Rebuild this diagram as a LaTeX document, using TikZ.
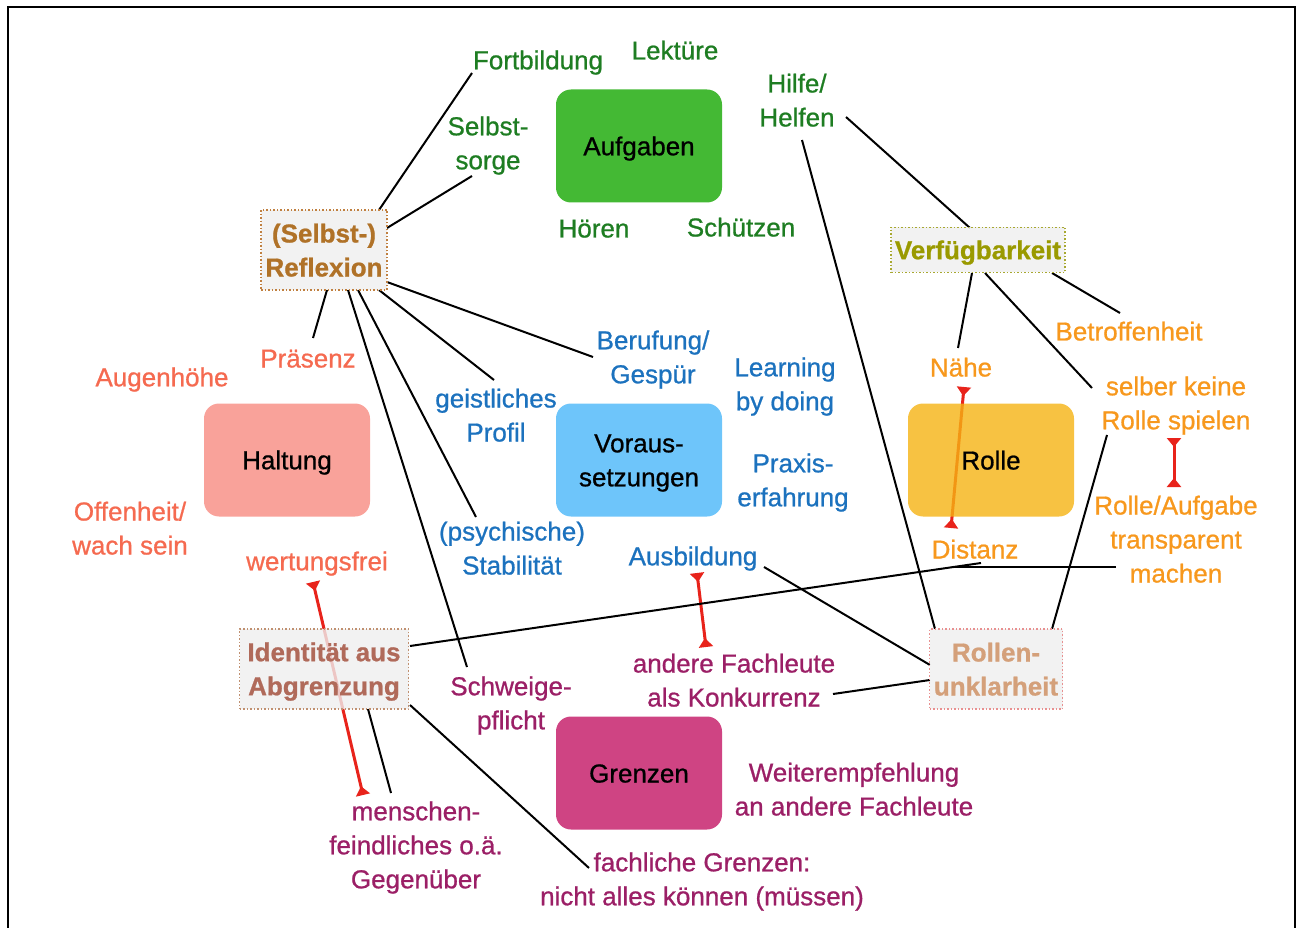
\documentclass[tikz,border=0pt]{standalone}
\usepackage{fontspec}
\setmainfont{Liberation Sans}[FakeBold=0.8]
\usetikzlibrary{arrows.meta,calc}
\definecolor{cgreen}{HTML}{1E7D22}
\definecolor{csalmon}{HTML}{F56A50}
\definecolor{cblue}{HTML}{1C72BE}
\definecolor{corange}{HTML}{F7981D}
\definecolor{cpurple}{HTML}{9B1F66}
\definecolor{fgreen}{HTML}{44B934}
\definecolor{fsalmon}{HTML}{F9A29A}
\definecolor{fblue}{HTML}{6EC5FA}
\definecolor{fyellow}{RGB}{245,179,19}
\definecolor{fmagenta}{HTML}{CF4483}
\definecolor{cred}{HTML}{E8231B}
\definecolor{dotfill}{RGB}{239,239,239}
\definecolor{trefl}{HTML}{B07228}
\definecolor{brefl}{HTML}{C08040}
\definecolor{tverf}{HTML}{9A9A00}
\definecolor{bverf}{HTML}{A8A830}
\definecolor{tident}{HTML}{B06A5A}
\definecolor{bident}{HTML}{C09070}
\definecolor{tunkl}{HTML}{D4A07A}
\definecolor{bunkl}{HTML}{E89090}
\newcommand\lstrut{\rule[-5pt]{0pt}{29pt}}
\begin{document}
\begin{tikzpicture}[x=1pt,y=-1pt,
  every node/.style={font=\fontsize{26}{34}\selectfont,
    execute at begin node=\lstrut, execute at end node=\lstrut},
  lbl/.style={align=center,inner sep=0pt},
  mainbox/.style={rounded corners=15pt,minimum width=166pt,minimum height=113pt,inner sep=0pt,align=center,text=black},
  dotbox/.style={draw=#1,line width=1.5pt,dash pattern=on 1.5pt off 2pt,fill=dotfill,fill opacity=0.8,text opacity=1,inner sep=0pt,align=center,font=\fontsize{26}{34}\selectfont\bfseries},
  link/.style={line width=2pt,black},
  teelink/.style={line width=3pt,cred,{Triangle[reversed,width=14pt,length=9pt]}-{Triangle[reversed,width=14pt,length=9pt]}}
]
\useasboundingbox (0,0) rectangle (1302,928);
\draw[line width=2.5pt] (8,7) rectangle (1295,950);

% labels
\node[lbl,text=cgreen] (fort) at (538,60) {Fortbildung};
\node[lbl,text=cgreen] (lekt) at (675,50) {Lektüre};
\node[lbl,text=cgreen] (sorge) at (488,143) {\lstrut Selbst-\\sorge};
\node[lbl,text=cgreen] (hilfe) at (797,100) {\lstrut Hilfe/\\Helfen};
\node[lbl,text=cgreen] (hoeren) at (594,228) {Hören};
\node[lbl,text=cgreen] (schuetz) at (741,227) {Schützen};

\node[lbl,text=csalmon] (praes) at (308,358) {Präsenz};
\node[lbl,text=csalmon] (augen) at (162,377) {Augenhöhe};
\node[lbl,text=csalmon] (offen) at (130,528) {\lstrut Offenheit/\\wach sein};
\node[lbl,text=csalmon] (wert) at (317,561) {wertungsfrei};

\node[lbl,text=cblue] (beruf) at (653,357) {\lstrut Berufung/\\Gespür};
\node[lbl,text=cblue] (learn) at (785,384) {\lstrut Learning\\by doing};
\node[lbl,text=cblue] (geist) at (496,415) {\lstrut geistliches\\Profil};
\node[lbl,text=cblue] (praxis) at (793,480) {\lstrut Praxis-\\erfahrung};
\node[lbl,text=cblue] (psych) at (512,548) {\lstrut (psychische)\\Stabilität};
\node[lbl,text=cblue] (ausb) at (693,556) {Ausbildung};

\node[lbl,text=corange] (betr) at (1129,331) {Betroffenheit};
\node[lbl,text=corange] (naehe) at (961,367) {Nähe};
\node[lbl,text=corange] (selber) at (1176,403) {\lstrut selber keine\\Rolle spielen};
\node[lbl,text=corange] (transp) at (1176,539) {\lstrut Rolle/Aufgabe\\transparent\\machen};
\node[lbl,text=corange] (distanz) at (975,549) {Distanz};

\node[lbl,text=cpurple] (konk) at (734,680) {\lstrut andere Fachleute\\als Konkurrenz};
\node[lbl,text=cpurple] (schweig) at (511,703) {\lstrut Schweige-\\pflicht};
\node[lbl,text=cpurple] (weiter) at (854,789) {\lstrut Weiterempfehlung\\an andere Fachleute};
\node[lbl,text=cpurple] (mensch) at (416,845) {\lstrut menschen-\\feindliches o.ä.\\Gegenüber};
\node[lbl,text=cpurple] (fachl) at (702,879) {\lstrut fachliche Grenzen:\\nicht alles können (müssen)};

% centres of the dotted boxes
\coordinate (reflc) at (324,250);
\coordinate (verfc) at (978,250);
\coordinate (identc) at (324,669);
\coordinate (unklc) at (996,669);

% red tee connectors (behind boxes)
\draw[teelink] ($(naehe)+(3,20)$) -- ($(distanz)+(-24,-21)$);
\draw[teelink] ($(selber)+(-2,35)$) -- ($(transp)+(-2,-52)$);
\draw[teelink] ($(ausb)+(4,17)$) -- ($(konk)+(-28,-33)$);
\draw[teelink] ($(wert)+(-4,21)$) -- ($(mensch)+(-53,-50)$);

% black connectors
\draw[link] ($(reflc)+(55,-40)$) -- ($(fort)+(-66,13)$);
\draw[link] ($(reflc)+(63,-22)$) -- ($(sorge)+(-16,33)$);
\draw[link] ($(reflc)+(3,40)$) -- ($(praes)+(5,-20)$);
\draw[link] ($(reflc)+(24,40)$) -- ($(schweig)+(-44,-36)$);
\draw[link] ($(reflc)+(34,40)$) -- ($(psych)+(-36,-31)$);
\draw[link] ($(reflc)+(55,40)$) -- ($(geist)+(-2,-35)$);
\draw[link] ($(reflc)+(63,32)$) -- ($(beruf)+(-60,0)$);
\draw[link] ($(hilfe)+(49,17)$) -- ($(verfc)+(-8,-22)$);
\draw[link] ($(hilfe)+(5,40)$) -- ($(unklc)+(-61,-40)$);
\draw[link] ($(verfc)+(-6,23)$) -- ($(naehe)+(-3,-19)$);
\draw[link] ($(verfc)+(7,23)$) -- ($(selber)+(-84,-15)$);
\draw[link] ($(verfc)+(74,23)$) -- ($(betr)+(-9,-18)$);
\draw[link] ($(unklc)+(56,-40)$) -- ($(selber)+(-69,32)$);
\draw[link] ($(identc)+(86,-23)$) -- ($(distanz)+(6,14)$);
\draw[link] ($(transp)+(-60,28)$) -- ($(distanz)+(-21,18)$);
\draw[link] ($(ausb)+(71,11)$) -- ($(unklc)+(-66,-4)$);
\draw[link] ($(konk)+(99,14)$) -- ($(unklc)+(-66,11)$);
\draw[link] ($(identc)+(44,40)$) -- ($(mensch)+(-25,-52)$);
\draw[link] ($(identc)+(86,36)$) -- ($(fachl)+(-113,-11)$);

% main boxes
\node[mainbox,fill=fgreen] (aufg) at (639,146) {Aufgaben};
\node[mainbox,fill=fsalmon] (halt) at (287,460) {Haltung};
\node[mainbox,fill=fblue] (vor) at (639,460) {\lstrut Voraus-\\setzungen};
\node[mainbox,fill=fyellow,fill opacity=0.8,text opacity=1] (rolle) at (991,460) {Rolle};
\node[mainbox,fill=fmagenta] (grenz) at (639,773) {Grenzen};

% dotted boxes
\node[dotbox=brefl,text=trefl,minimum width=126pt,minimum height=80pt] (refl) at (reflc) {\lstrut (Selbst-)\\Reflexion};
\node[dotbox=bverf,text=tverf,minimum width=174pt,minimum height=45pt] (verf) at (verfc) {Verfügbarkeit};
\node[dotbox=bident,text=tident,minimum width=169pt,minimum height=80pt] (ident) at (identc) {\lstrut Identität aus\\Abgrenzung};
\node[dotbox=bunkl,text=tunkl,minimum width=133pt,minimum height=80pt] (unkl) at (unklc) {\lstrut Rollen-\\unklarheit};
\end{tikzpicture}
\end{document}
